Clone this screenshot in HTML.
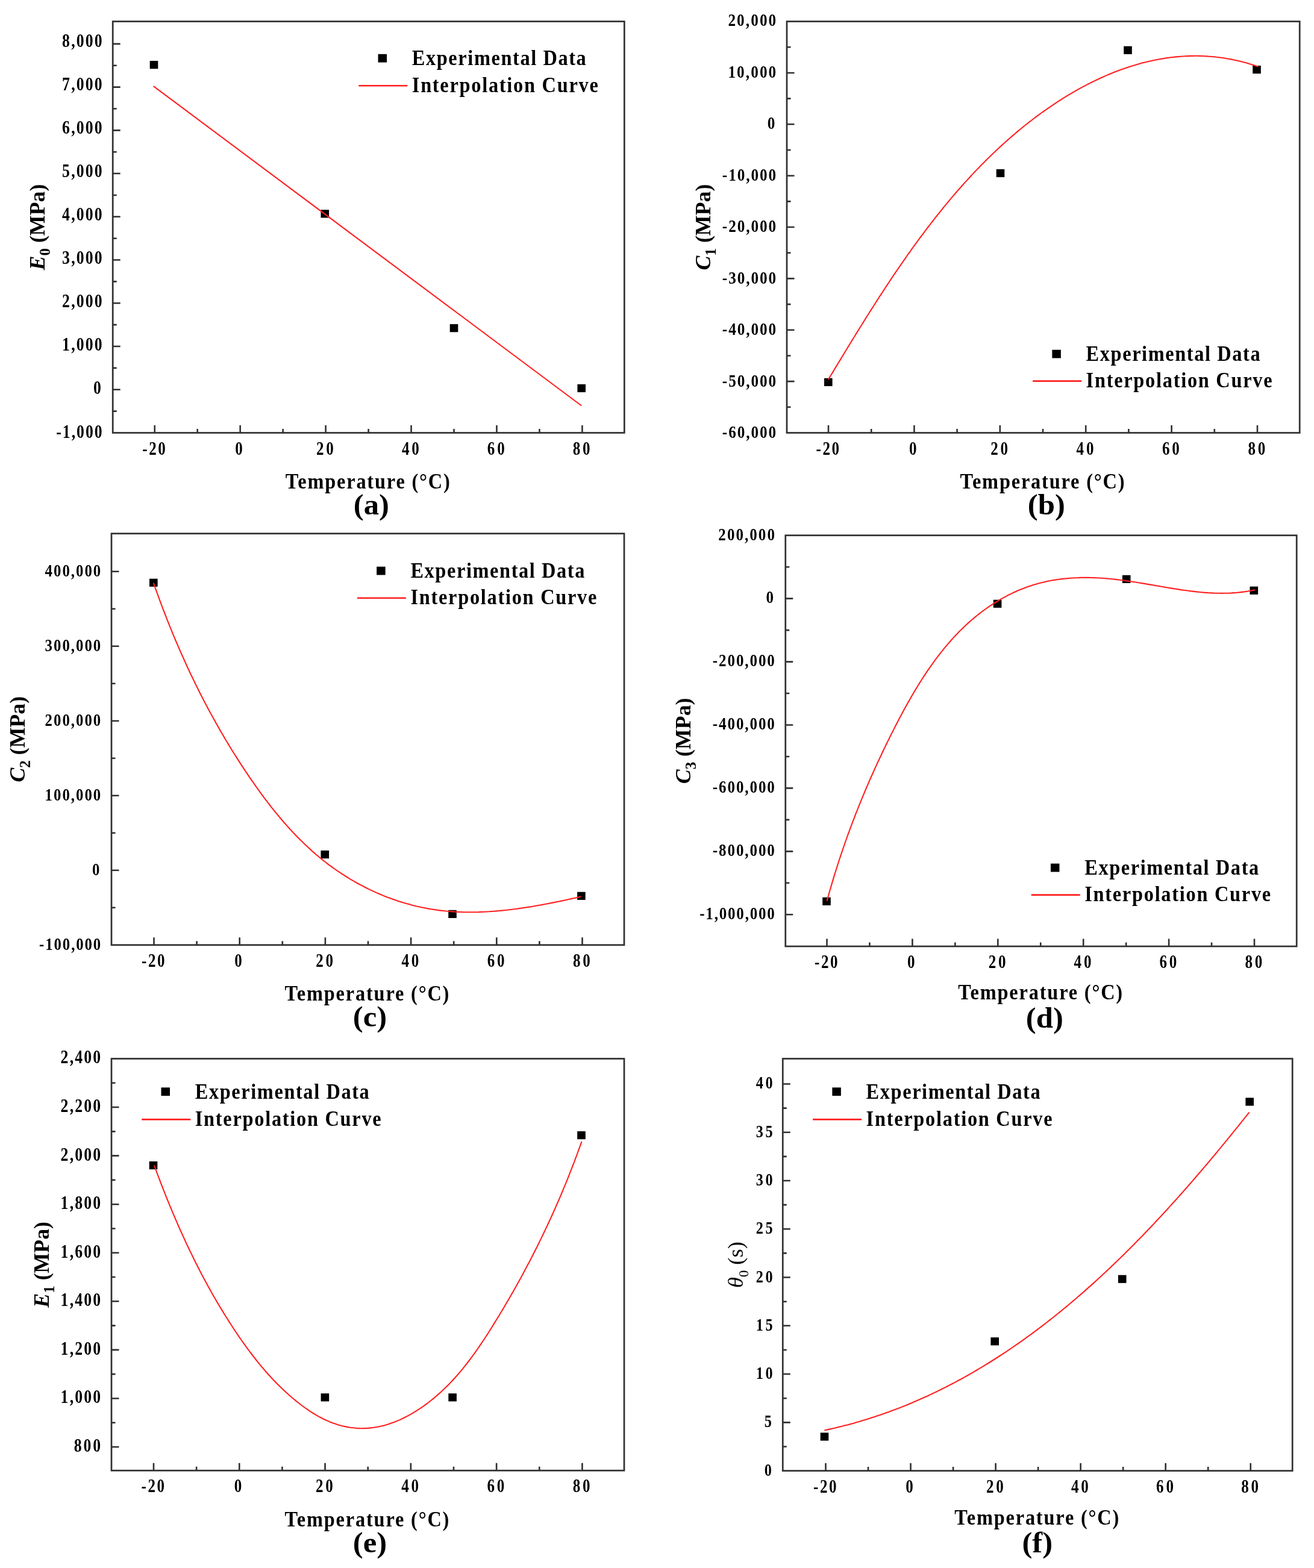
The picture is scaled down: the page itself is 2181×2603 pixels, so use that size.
<!DOCTYPE html>
<html><head><meta charset="utf-8"><title>Figure</title>
<style>html,body{margin:0;padding:0;background:#fff;}svg{display:block;}text{font-family:"Liberation Serif", "Times New Roman", serif;}</style></head><body>
<svg width="2181" height="2603" viewBox="0 0 2181 2603">
<rect width="2181" height="2603" fill="#fff"/>
<g id="panel-a">
<rect x="248.70" y="101.00" width="13.6" height="13.2" fill="#000"/>
<rect x="532.50" y="348.30" width="13.6" height="13.2" fill="#000"/>
<rect x="746.70" y="538.10" width="13.6" height="13.2" fill="#000"/>
<rect x="958.40" y="637.90" width="13.6" height="13.2" fill="#000"/>
<path d="M255.5,143.6 L964.5,673.0" fill="none" stroke="#ff2020" stroke-width="2.1" stroke-linejoin="round" stroke-linecap="round"/>
<rect x="187.20" y="35.60" width="849.10" height="682.90" fill="none" stroke="#303030" stroke-width="2.7"/>
<path d="M256.75,718.50V706.00 M327.72,718.50V712.00 M398.68,718.50V706.00 M469.64,718.50V712.00 M540.61,718.50V706.00 M611.58,718.50V712.00 M682.54,718.50V706.00 M753.50,718.50V712.00 M824.47,718.50V706.00 M895.43,718.50V712.00 M966.40,718.50V706.00 M187.20,682.63H193.70 M187.20,646.76H199.70 M187.20,610.89H193.70 M187.20,575.02H199.70 M187.20,539.15H193.70 M187.20,503.28H199.70 M187.20,467.41H193.70 M187.20,431.54H199.70 M187.20,395.68H193.70 M187.20,359.81H199.70 M187.20,323.94H193.70 M187.20,288.07H199.70 M187.20,252.20H193.70 M187.20,216.33H199.70 M187.20,180.46H193.70 M187.20,144.59H199.70 M187.20,108.72H193.70 M187.20,72.85H199.70" stroke="#303030" stroke-width="2.6" fill="none"/>
<text transform="translate(236.33,754.60) scale(0.809,1)" font-size="31.0" font-weight="bold" textLength="47.50" lengthAdjust="spacing">-20</text>
<text transform="translate(390.27,754.60) scale(0.809,1)" font-size="31.0" font-weight="bold" textLength="17.82" lengthAdjust="spacing">0</text>
<text transform="translate(525.00,754.60) scale(0.809,1)" font-size="31.0" font-weight="bold" textLength="35.63" lengthAdjust="spacing">20</text>
<text transform="translate(666.92,754.60) scale(0.809,1)" font-size="31.0" font-weight="bold" textLength="35.63" lengthAdjust="spacing">40</text>
<text transform="translate(808.86,754.60) scale(0.809,1)" font-size="31.0" font-weight="bold" textLength="35.63" lengthAdjust="spacing">60</text>
<text transform="translate(950.78,754.60) scale(0.809,1)" font-size="31.0" font-weight="bold" textLength="35.63" lengthAdjust="spacing">80</text>
<text transform="translate(93.24,726.51) scale(0.805,1)" font-size="32.0" font-weight="bold" textLength="95.01" lengthAdjust="spacing">-1,000</text>
<text transform="translate(154.90,654.48) scale(0.805,1)" font-size="32.0" font-weight="bold" textLength="18.39" lengthAdjust="spacing">0</text>
<text transform="translate(103.10,582.46) scale(0.805,1)" font-size="32.0" font-weight="bold" textLength="82.76" lengthAdjust="spacing">1,000</text>
<text transform="translate(103.10,510.43) scale(0.805,1)" font-size="32.0" font-weight="bold" textLength="82.76" lengthAdjust="spacing">2,000</text>
<text transform="translate(103.10,438.40) scale(0.805,1)" font-size="32.0" font-weight="bold" textLength="82.76" lengthAdjust="spacing">3,000</text>
<text transform="translate(103.10,366.37) scale(0.805,1)" font-size="32.0" font-weight="bold" textLength="82.76" lengthAdjust="spacing">4,000</text>
<text transform="translate(103.10,294.35) scale(0.805,1)" font-size="32.0" font-weight="bold" textLength="82.76" lengthAdjust="spacing">5,000</text>
<text transform="translate(103.10,222.32) scale(0.805,1)" font-size="32.0" font-weight="bold" textLength="82.76" lengthAdjust="spacing">6,000</text>
<text transform="translate(103.10,150.29) scale(0.805,1)" font-size="32.0" font-weight="bold" textLength="82.76" lengthAdjust="spacing">7,000</text>
<text transform="translate(103.10,78.26) scale(0.805,1)" font-size="32.0" font-weight="bold" textLength="82.76" lengthAdjust="spacing">8,000</text>
<rect x="627.55" y="89.80" width="14.5" height="13.8" fill="#000"/>
<path d="M595.30,142.20H676.30" stroke="#ff2020" stroke-width="2.6"/>
<text transform="translate(683.80,108.20) scale(0.92,1)" font-size="35.2" font-weight="bold" textLength="314.13" lengthAdjust="spacing">Experimental Data</text>
<text transform="translate(683.80,152.60) scale(0.92,1)" font-size="35.2" font-weight="bold" textLength="335.87" lengthAdjust="spacing">Interpolation Curve</text>
<text transform="translate(473.80,811.00) scale(0.92,1)" font-size="35.2" font-weight="bold" textLength="296.74" lengthAdjust="spacing">Temperature (°C)</text>
<text transform="translate(616.40,853.86) scale(1.05,1)" font-size="48.3" font-weight="bold" text-anchor="middle">(a)</text>
<text transform="translate(74.30,377.05) rotate(-90)" font-size="35.8" text-anchor="middle"><tspan font-style="italic" font-weight="bold">E</tspan><tspan font-size="25.0" font-weight="bold" dy="9">0</tspan><tspan font-weight="bold" dy="-9"> (MPa)</tspan></text>
</g>
<g id="panel-b">
<rect x="1368.00" y="627.80" width="13.6" height="13.2" fill="#000"/>
<rect x="1653.70" y="280.90" width="13.6" height="13.2" fill="#000"/>
<rect x="1865.20" y="76.70" width="13.6" height="13.2" fill="#000"/>
<rect x="2079.20" y="109.00" width="13.6" height="13.2" fill="#000"/>
<path d="M1375.2,629.3 L1377.3,626.0 L1379.3,622.7 L1381.3,619.4 L1383.3,616.1 L1385.3,612.7 L1387.3,609.4 L1389.3,606.1 L1391.3,602.7 L1393.4,599.4 L1395.4,596.1 L1397.4,592.7 L1399.5,589.4 L1401.5,586.0 L1403.5,582.7 L1405.6,579.3 L1407.6,576.0 L1409.7,572.6 L1411.7,569.3 L1413.8,565.9 L1415.8,562.5 L1417.9,559.2 L1420.0,555.8 L1422.1,552.4 L1424.1,549.1 L1426.2,545.7 L1428.3,542.3 L1430.4,539.0 L1432.5,535.6 L1434.6,532.3 L1436.7,528.9 L1438.8,525.5 L1440.9,522.2 L1443.1,518.8 L1445.2,515.4 L1447.3,512.1 L1449.5,508.7 L1451.6,505.3 L1453.8,502.0 L1455.9,498.6 L1458.1,495.3 L1460.2,491.9 L1462.4,488.6 L1464.6,485.2 L1466.8,481.9 L1469.0,478.5 L1471.2,475.2 L1473.4,471.9 L1475.6,468.5 L1477.8,465.2 L1480.0,461.9 L1482.2,458.5 L1484.5,455.2 L1486.7,451.9 L1489.0,448.6 L1491.2,445.3 L1493.5,442.0 L1495.8,438.7 L1498.1,435.4 L1500.3,432.1 L1502.6,428.8 L1504.9,425.5 L1507.2,422.2 L1509.6,419.0 L1511.9,415.7 L1514.2,412.4 L1516.6,409.2 L1518.9,405.9 L1521.3,402.7 L1523.6,399.5 L1526.0,396.2 L1528.4,393.0 L1530.8,389.8 L1533.2,386.6 L1535.6,383.4 L1538.0,380.2 L1540.4,377.0 L1542.9,373.8 L1545.3,370.6 L1547.8,367.5 L1550.2,364.3 L1552.7,361.2 L1555.2,358.0 L1557.7,354.9 L1560.2,351.8 L1562.7,348.6 L1565.2,345.5 L1567.7,342.4 L1570.3,339.4 L1572.8,336.3 L1575.4,333.2 L1577.9,330.1 L1580.5,327.1 L1583.1,324.1 L1585.7,321.0 L1588.3,318.0 L1590.9,315.0 L1593.6,312.0 L1596.2,309.0 L1598.9,306.0 L1601.5,303.1 L1604.2,300.1 L1606.9,297.2 L1609.6,294.2 L1612.3,291.3 L1615.0,288.4 L1617.8,285.5 L1620.5,282.6 L1623.3,279.7 L1626.0,276.9 L1628.8,274.0 L1631.6,271.2 L1634.4,268.4 L1637.2,265.5 L1640.1,262.8 L1642.9,260.0 L1645.8,257.2 L1648.6,254.4 L1651.5,251.7 L1654.4,249.0 L1657.3,246.3 L1660.2,243.6 L1663.2,240.9 L1666.1,238.2 L1669.1,235.5 L1672.0,232.9 L1675.0,230.3 L1678.0,227.7 L1681.0,225.1 L1684.0,222.5 L1687.1,219.9 L1690.1,217.4 L1693.2,214.8 L1696.3,212.3 L1699.4,209.8 L1702.5,207.3 L1705.6,204.8 L1708.7,202.4 L1711.9,200.0 L1715.0,197.5 L1718.2,195.1 L1721.4,192.7 L1724.6,190.4 L1727.8,188.0 L1731.1,185.7 L1734.3,183.4 L1737.6,181.1 L1740.9,178.8 L1744.2,176.6 L1747.5,174.3 L1750.8,172.1 L1754.1,169.9 L1757.5,167.7 L1760.8,165.6 L1764.2,163.4 L1767.6,161.3 L1771.0,159.2 L1774.4,157.2 L1777.9,155.1 L1781.3,153.1 L1784.8,151.1 L1788.3,149.2 L1791.7,147.2 L1795.2,145.3 L1798.8,143.4 L1802.3,141.6 L1805.8,139.7 L1809.4,137.9 L1812.9,136.2 L1816.5,134.4 L1820.1,132.7 L1823.7,131.0 L1827.3,129.3 L1830.9,127.7 L1834.5,126.1 L1838.1,124.6 L1841.8,123.0 L1845.4,121.5 L1849.1,120.0 L1852.8,118.6 L1856.5,117.2 L1860.2,115.8 L1863.9,114.5 L1867.6,113.2 L1871.3,112.0 L1875.1,110.7 L1878.8,109.5 L1882.6,108.4 L1886.3,107.3 L1890.1,106.2 L1893.9,105.1 L1897.7,104.1 L1901.5,103.2 L1905.3,102.3 L1909.1,101.4 L1913.0,100.5 L1916.8,99.7 L1920.6,99.0 L1924.5,98.3 L1928.4,97.6 L1932.2,97.0 L1936.1,96.4 L1940.0,95.8 L1943.9,95.3 L1947.8,94.9 L1951.7,94.4 L1955.6,94.1 L1959.5,93.8 L1963.4,93.5 L1967.4,93.3 L1971.3,93.1 L1975.2,92.9 L1979.2,92.9 L1983.1,92.8 L1987.1,92.8 L1991.1,92.9 L1995.0,93.0 L1999.0,93.2 L2003.0,93.4 L2007.0,93.7 L2011.0,94.0 L2015.0,94.3 L2019.0,94.8 L2023.0,95.2 L2027.0,95.8 L2031.0,96.3 L2035.0,97.0 L2039.0,97.7 L2043.1,98.4 L2047.1,99.2 L2051.1,100.1 L2055.2,101.0 L2059.2,102.0 L2063.3,103.0 L2067.3,104.1 L2071.4,105.2 L2075.4,106.4 L2079.5,107.7 L2083.5,109.0 L2087.6,110.4" fill="none" stroke="#ff2020" stroke-width="2.1" stroke-linejoin="round" stroke-linecap="round"/>
<rect x="1306.00" y="35.60" width="851.20" height="682.90" fill="none" stroke="#303030" stroke-width="2.7"/>
<path d="M1375.00,718.50V706.00 M1446.20,718.50V712.00 M1517.40,718.50V706.00 M1588.60,718.50V712.00 M1659.80,718.50V706.00 M1731.00,718.50V712.00 M1802.20,718.50V706.00 M1873.40,718.50V712.00 M1944.60,718.50V706.00 M2015.80,718.50V712.00 M2087.00,718.50V706.00 M1306.00,675.82H1312.50 M1306.00,633.14H1318.50 M1306.00,590.46H1312.50 M1306.00,547.77H1318.50 M1306.00,505.09H1312.50 M1306.00,462.41H1318.50 M1306.00,419.73H1312.50 M1306.00,377.05H1318.50 M1306.00,334.37H1312.50 M1306.00,291.69H1318.50 M1306.00,249.01H1312.50 M1306.00,206.32H1318.50 M1306.00,163.64H1312.50 M1306.00,120.96H1318.50 M1306.00,78.28H1312.50" stroke="#303030" stroke-width="2.6" fill="none"/>
<text transform="translate(1354.58,754.60) scale(0.809,1)" font-size="31.0" font-weight="bold" textLength="47.50" lengthAdjust="spacing">-20</text>
<text transform="translate(1508.99,754.60) scale(0.809,1)" font-size="31.0" font-weight="bold" textLength="17.82" lengthAdjust="spacing">0</text>
<text transform="translate(1644.18,754.60) scale(0.809,1)" font-size="31.0" font-weight="bold" textLength="35.63" lengthAdjust="spacing">20</text>
<text transform="translate(1786.59,754.60) scale(0.809,1)" font-size="31.0" font-weight="bold" textLength="35.63" lengthAdjust="spacing">40</text>
<text transform="translate(1928.98,754.60) scale(0.809,1)" font-size="31.0" font-weight="bold" textLength="35.63" lengthAdjust="spacing">60</text>
<text transform="translate(2071.39,754.60) scale(0.809,1)" font-size="31.0" font-weight="bold" textLength="35.63" lengthAdjust="spacing">80</text>
<text transform="translate(1198.79,727.14) scale(0.827,1)" font-size="30.5" font-weight="bold" textLength="108.08" lengthAdjust="spacing">-60,000</text>
<text transform="translate(1198.79,641.66) scale(0.827,1)" font-size="30.5" font-weight="bold" textLength="108.08" lengthAdjust="spacing">-50,000</text>
<text transform="translate(1198.79,556.19) scale(0.827,1)" font-size="30.5" font-weight="bold" textLength="108.08" lengthAdjust="spacing">-40,000</text>
<text transform="translate(1198.79,470.71) scale(0.827,1)" font-size="30.5" font-weight="bold" textLength="108.08" lengthAdjust="spacing">-30,000</text>
<text transform="translate(1198.79,385.24) scale(0.827,1)" font-size="30.5" font-weight="bold" textLength="108.08" lengthAdjust="spacing">-20,000</text>
<text transform="translate(1198.79,299.76) scale(0.827,1)" font-size="30.5" font-weight="bold" textLength="108.08" lengthAdjust="spacing">-10,000</text>
<text transform="translate(1273.70,214.29) scale(0.827,1)" font-size="30.5" font-weight="bold" textLength="17.53" lengthAdjust="spacing">0</text>
<text transform="translate(1208.45,128.81) scale(0.827,1)" font-size="30.5" font-weight="bold" textLength="96.41" lengthAdjust="spacing">10,000</text>
<text transform="translate(1208.45,43.34) scale(0.827,1)" font-size="30.5" font-weight="bold" textLength="96.41" lengthAdjust="spacing">20,000</text>
<rect x="1746.35" y="580.70" width="14.5" height="13.8" fill="#000"/>
<path d="M1714.10,632.60H1795.10" stroke="#ff2020" stroke-width="2.6"/>
<text transform="translate(1802.60,599.10) scale(0.92,1)" font-size="35.2" font-weight="bold" textLength="314.13" lengthAdjust="spacing">Experimental Data</text>
<text transform="translate(1802.60,643.00) scale(0.92,1)" font-size="35.2" font-weight="bold" textLength="335.87" lengthAdjust="spacing">Interpolation Curve</text>
<text transform="translate(1593.50,811.20) scale(0.92,1)" font-size="35.2" font-weight="bold" textLength="296.74" lengthAdjust="spacing">Temperature (°C)</text>
<text transform="translate(1736.80,854.16) scale(1.05,1)" font-size="48.3" font-weight="bold" text-anchor="middle">(b)</text>
<text transform="translate(1178.60,377.05) rotate(-90)" font-size="35.8" text-anchor="middle"><tspan font-style="italic" font-weight="bold">C</tspan><tspan font-size="25.0" font-weight="bold" dy="9">1</tspan><tspan font-weight="bold" dy="-9"> (MPa)</tspan></text>
</g>
<g id="panel-c">
<rect x="248.00" y="960.70" width="13.6" height="13.2" fill="#000"/>
<rect x="532.50" y="1411.90" width="13.6" height="13.2" fill="#000"/>
<rect x="744.20" y="1510.80" width="13.6" height="13.2" fill="#000"/>
<rect x="958.10" y="1480.70" width="13.6" height="13.2" fill="#000"/>
<path d="M255.1,968.6 L256.5,972.6 L257.9,976.5 L259.3,980.4 L260.7,984.4 L262.2,988.3 L263.6,992.2 L265.0,996.1 L266.5,1000.1 L268.0,1004.0 L269.4,1007.9 L270.9,1011.8 L272.4,1015.7 L273.9,1019.5 L275.4,1023.4 L276.9,1027.3 L278.4,1031.2 L280.0,1035.0 L281.5,1038.9 L283.1,1042.8 L284.7,1046.6 L286.2,1050.5 L287.8,1054.3 L289.4,1058.1 L291.0,1062.0 L292.6,1065.8 L294.3,1069.6 L295.9,1073.4 L297.6,1077.2 L299.2,1081.0 L300.9,1084.8 L302.6,1088.6 L304.3,1092.4 L306.0,1096.2 L307.7,1099.9 L309.4,1103.7 L311.1,1107.5 L312.9,1111.2 L314.6,1115.0 L316.4,1118.7 L318.2,1122.5 L320.0,1126.2 L321.8,1129.9 L323.6,1133.7 L325.4,1137.4 L327.2,1141.1 L329.1,1144.8 L330.9,1148.5 L332.8,1152.2 L334.7,1155.9 L336.6,1159.6 L338.5,1163.2 L340.4,1166.9 L342.3,1170.6 L344.3,1174.2 L346.2,1177.9 L348.2,1181.6 L350.2,1185.2 L352.2,1188.8 L354.2,1192.5 L356.2,1196.1 L358.2,1199.7 L360.2,1203.3 L362.3,1206.9 L364.3,1210.5 L366.4,1214.1 L368.5,1217.7 L370.6,1221.3 L372.7,1224.9 L374.8,1228.5 L377.0,1232.0 L379.1,1235.6 L381.3,1239.2 L383.5,1242.7 L385.6,1246.3 L387.8,1249.8 L390.1,1253.3 L392.3,1256.9 L394.5,1260.4 L396.8,1263.9 L399.0,1267.4 L401.3,1270.9 L403.6,1274.4 L405.9,1277.9 L408.2,1281.4 L410.6,1284.9 L412.9,1288.3 L415.3,1291.8 L417.7,1295.3 L420.1,1298.7 L422.5,1302.2 L424.9,1305.6 L427.3,1309.0 L429.8,1312.4 L432.2,1315.8 L434.7,1319.2 L437.2,1322.6 L439.7,1326.0 L442.3,1329.3 L444.8,1332.7 L447.4,1336.0 L450.0,1339.3 L452.6,1342.6 L455.2,1345.9 L457.8,1349.1 L460.5,1352.4 L463.2,1355.6 L465.9,1358.8 L468.6,1362.0 L471.3,1365.2 L474.1,1368.3 L476.8,1371.4 L479.6,1374.5 L482.5,1377.6 L485.3,1380.7 L488.2,1383.7 L491.0,1386.7 L493.9,1389.7 L496.9,1392.7 L499.8,1395.6 L502.8,1398.5 L505.8,1401.4 L508.8,1404.3 L511.8,1407.1 L514.9,1409.9 L518.0,1412.7 L521.1,1415.4 L524.2,1418.2 L527.4,1420.8 L530.6,1423.5 L533.8,1426.1 L537.0,1428.7 L540.3,1431.3 L543.5,1433.8 L546.9,1436.3 L550.2,1438.7 L553.5,1441.2 L556.9,1443.5 L560.3,1445.9 L563.8,1448.2 L567.2,1450.5 L570.7,1452.7 L574.2,1455.0 L577.7,1457.1 L581.2,1459.3 L584.8,1461.4 L588.3,1463.4 L591.9,1465.5 L595.5,1467.5 L599.2,1469.4 L602.8,1471.3 L606.5,1473.2 L610.2,1475.1 L613.9,1476.9 L617.6,1478.6 L621.4,1480.4 L625.1,1482.1 L628.9,1483.7 L632.7,1485.3 L636.5,1486.9 L640.4,1488.4 L644.2,1489.9 L648.1,1491.3 L651.9,1492.7 L655.8,1494.1 L659.7,1495.4 L663.7,1496.7 L667.6,1497.9 L671.5,1499.1 L675.5,1500.2 L679.5,1501.3 L683.5,1502.4 L687.5,1503.4 L691.5,1504.4 L695.5,1505.3 L699.5,1506.2 L703.6,1507.0 L707.6,1507.8 L711.7,1508.6 L715.8,1509.3 L719.9,1509.9 L723.9,1510.5 L728.1,1511.1 L732.2,1511.6 L736.3,1512.0 L740.4,1512.5 L744.6,1512.8 L748.7,1513.2 L752.9,1513.4 L757.0,1513.7 L761.2,1513.9 L765.4,1514.0 L769.5,1514.2 L773.7,1514.2 L777.9,1514.3 L782.1,1514.3 L786.3,1514.3 L790.5,1514.2 L794.7,1514.1 L798.9,1513.9 L803.1,1513.8 L807.3,1513.5 L811.5,1513.3 L815.7,1513.0 L819.9,1512.7 L824.1,1512.4 L828.3,1512.0 L832.5,1511.6 L836.7,1511.2 L840.9,1510.8 L845.1,1510.3 L849.3,1509.8 L853.5,1509.3 L857.6,1508.7 L861.8,1508.1 L866.0,1507.5 L870.2,1506.9 L874.3,1506.3 L878.5,1505.6 L882.6,1505.0 L886.8,1504.3 L890.9,1503.5 L895.0,1502.8 L899.2,1502.1 L903.3,1501.3 L907.4,1500.5 L911.5,1499.7 L915.6,1498.9 L919.6,1498.1 L923.7,1497.3 L927.7,1496.5 L931.8,1495.6 L935.8,1494.8 L939.8,1493.9 L943.8,1493.0 L947.8,1492.1 L951.8,1491.3 L955.7,1490.4 L959.7,1489.5 L963.6,1488.6" fill="none" stroke="#ff2020" stroke-width="2.1" stroke-linejoin="round" stroke-linecap="round"/>
<rect x="185.00" y="885.75" width="851.00" height="683.00" fill="none" stroke="#303030" stroke-width="2.7"/>
<path d="M255.50,1568.75V1556.25 M326.60,1568.75V1562.25 M397.70,1568.75V1556.25 M468.80,1568.75V1562.25 M539.90,1568.75V1556.25 M611.00,1568.75V1562.25 M682.10,1568.75V1556.25 M753.20,1568.75V1562.25 M824.30,1568.75V1556.25 M895.40,1568.75V1562.25 M966.50,1568.75V1556.25 M185.00,1506.75H191.50 M185.00,1444.75H197.50 M185.00,1382.75H191.50 M185.00,1320.75H197.50 M185.00,1258.75H191.50 M185.00,1196.75H197.50 M185.00,1134.75H191.50 M185.00,1072.75H197.50 M185.00,1010.75H191.50 M185.00,948.75H197.50" stroke="#303030" stroke-width="2.6" fill="none"/>
<text transform="translate(235.08,1604.85) scale(0.809,1)" font-size="31.0" font-weight="bold" textLength="47.50" lengthAdjust="spacing">-20</text>
<text transform="translate(389.29,1604.85) scale(0.809,1)" font-size="31.0" font-weight="bold" textLength="17.82" lengthAdjust="spacing">0</text>
<text transform="translate(524.29,1604.85) scale(0.809,1)" font-size="31.0" font-weight="bold" textLength="35.63" lengthAdjust="spacing">20</text>
<text transform="translate(666.49,1604.85) scale(0.809,1)" font-size="31.0" font-weight="bold" textLength="35.63" lengthAdjust="spacing">40</text>
<text transform="translate(808.69,1604.85) scale(0.809,1)" font-size="31.0" font-weight="bold" textLength="35.63" lengthAdjust="spacing">60</text>
<text transform="translate(950.88,1604.85) scale(0.809,1)" font-size="31.0" font-weight="bold" textLength="35.63" lengthAdjust="spacing">80</text>
<text transform="translate(65.08,1576.77) scale(0.841,1)" font-size="29.5" font-weight="bold" textLength="121.49" lengthAdjust="spacing">-100,000</text>
<text transform="translate(152.95,1452.77) scale(0.841,1)" font-size="29.5" font-weight="bold" textLength="16.95" lengthAdjust="spacing">0</text>
<text transform="translate(74.57,1328.77) scale(0.841,1)" font-size="29.5" font-weight="bold" textLength="110.20" lengthAdjust="spacing">100,000</text>
<text transform="translate(74.57,1204.77) scale(0.841,1)" font-size="29.5" font-weight="bold" textLength="110.20" lengthAdjust="spacing">200,000</text>
<text transform="translate(74.57,1080.77) scale(0.841,1)" font-size="29.5" font-weight="bold" textLength="110.20" lengthAdjust="spacing">300,000</text>
<text transform="translate(74.57,956.77) scale(0.841,1)" font-size="29.5" font-weight="bold" textLength="110.20" lengthAdjust="spacing">400,000</text>
<rect x="625.15" y="940.70" width="14.5" height="13.8" fill="#000"/>
<path d="M592.90,992.70H673.90" stroke="#ff2020" stroke-width="2.6"/>
<text transform="translate(681.40,959.10) scale(0.92,1)" font-size="35.2" font-weight="bold" textLength="314.13" lengthAdjust="spacing">Experimental Data</text>
<text transform="translate(681.40,1003.10) scale(0.92,1)" font-size="35.2" font-weight="bold" textLength="335.87" lengthAdjust="spacing">Interpolation Curve</text>
<text transform="translate(472.40,1661.00) scale(0.92,1)" font-size="35.2" font-weight="bold" textLength="296.74" lengthAdjust="spacing">Temperature (°C)</text>
<text transform="translate(614.00,1703.96) scale(1.05,1)" font-size="48.3" font-weight="bold" text-anchor="middle">(c)</text>
<text transform="translate(41.40,1227.25) rotate(-90)" font-size="35.8" text-anchor="middle"><tspan font-style="italic" font-weight="bold">C</tspan><tspan font-size="25.0" font-weight="bold" dy="9">2</tspan><tspan font-weight="bold" dy="-9"> (MPa)</tspan></text>
</g>
<g id="panel-d">
<rect x="1365.20" y="1489.70" width="13.6" height="13.2" fill="#000"/>
<rect x="1648.80" y="995.70" width="13.6" height="13.2" fill="#000"/>
<rect x="1862.90" y="954.80" width="13.6" height="13.2" fill="#000"/>
<rect x="2074.50" y="973.70" width="13.6" height="13.2" fill="#000"/>
<path d="M1372.7,1495.1 L1373.9,1490.8 L1375.1,1486.6 L1376.2,1482.4 L1377.4,1478.2 L1378.7,1474.1 L1379.9,1469.9 L1381.1,1465.7 L1382.3,1461.6 L1383.6,1457.4 L1384.8,1453.3 L1386.1,1449.2 L1387.4,1445.1 L1388.7,1441.0 L1390.0,1436.9 L1391.3,1432.8 L1392.6,1428.8 L1393.9,1424.7 L1395.3,1420.6 L1396.6,1416.6 L1398.0,1412.6 L1399.4,1408.5 L1400.8,1404.5 L1402.1,1400.5 L1403.5,1396.5 L1405.0,1392.5 L1406.4,1388.5 L1407.8,1384.5 L1409.3,1380.6 L1410.7,1376.6 L1412.2,1372.6 L1413.7,1368.7 L1415.2,1364.7 L1416.7,1360.8 L1418.2,1356.9 L1419.7,1352.9 L1421.2,1349.0 L1422.8,1345.1 L1424.3,1341.2 L1425.9,1337.3 L1427.5,1333.3 L1429.1,1329.4 L1430.7,1325.6 L1432.3,1321.7 L1433.9,1317.8 L1435.5,1313.9 L1437.2,1310.0 L1438.8,1306.1 L1440.5,1302.3 L1442.2,1298.4 L1443.8,1294.5 L1445.5,1290.7 L1447.3,1286.8 L1449.0,1283.0 L1450.7,1279.1 L1452.5,1275.2 L1454.2,1271.4 L1456.0,1267.5 L1457.8,1263.7 L1459.6,1259.9 L1461.4,1256.0 L1463.2,1252.2 L1465.0,1248.3 L1466.8,1244.5 L1468.7,1240.6 L1470.5,1236.8 L1472.4,1233.0 L1474.3,1229.1 L1476.2,1225.3 L1478.1,1221.4 L1480.0,1217.6 L1482.0,1213.8 L1483.9,1209.9 L1485.9,1206.1 L1487.8,1202.3 L1489.8,1198.4 L1491.8,1194.6 L1493.8,1190.8 L1495.9,1186.9 L1497.9,1183.1 L1500.0,1179.3 L1502.0,1175.5 L1504.1,1171.7 L1506.2,1167.9 L1508.4,1164.1 L1510.5,1160.4 L1512.7,1156.6 L1514.8,1152.9 L1517.0,1149.1 L1519.3,1145.4 L1521.5,1141.7 L1523.8,1138.0 L1526.0,1134.4 L1528.3,1130.7 L1530.7,1127.0 L1533.0,1123.4 L1535.4,1119.8 L1537.8,1116.2 L1540.2,1112.7 L1542.6,1109.1 L1545.1,1105.6 L1547.6,1102.1 L1550.1,1098.6 L1552.6,1095.1 L1555.2,1091.7 L1557.8,1088.3 L1560.4,1084.9 L1563.1,1081.6 L1565.7,1078.2 L1568.4,1074.9 L1571.2,1071.7 L1573.9,1068.4 L1576.7,1065.2 L1579.5,1062.0 L1582.4,1058.9 L1585.3,1055.8 L1588.2,1052.7 L1591.1,1049.6 L1594.1,1046.6 L1597.1,1043.7 L1600.1,1040.7 L1603.2,1037.8 L1606.3,1034.9 L1609.5,1032.1 L1612.6,1029.3 L1615.9,1026.6 L1619.1,1023.9 L1622.4,1021.2 L1625.7,1018.6 L1629.1,1016.0 L1632.4,1013.5 L1635.9,1011.0 L1639.3,1008.6 L1642.8,1006.2 L1646.4,1003.8 L1649.9,1001.5 L1653.5,999.3 L1657.1,997.1 L1660.8,994.9 L1664.5,992.9 L1668.2,990.8 L1671.9,988.8 L1675.7,986.9 L1679.5,985.1 L1683.3,983.3 L1687.2,981.5 L1691.0,979.8 L1694.9,978.2 L1698.9,976.7 L1702.8,975.2 L1706.8,973.8 L1710.8,972.4 L1714.8,971.1 L1718.8,969.9 L1722.9,968.8 L1726.9,967.7 L1731.0,966.7 L1735.1,965.7 L1739.3,964.8 L1743.4,964.0 L1747.5,963.3 L1751.7,962.6 L1755.9,962.0 L1760.1,961.4 L1764.3,960.9 L1768.5,960.5 L1772.7,960.1 L1777.0,959.7 L1781.2,959.5 L1785.5,959.2 L1789.7,959.1 L1794.0,958.9 L1798.3,958.9 L1802.5,958.9 L1806.8,958.9 L1811.1,959.0 L1815.4,959.1 L1819.7,959.3 L1824.0,959.5 L1828.3,959.7 L1832.5,960.0 L1836.8,960.4 L1841.1,960.8 L1845.4,961.2 L1849.7,961.6 L1854.0,962.1 L1858.2,962.7 L1862.5,963.2 L1866.8,963.8 L1871.0,964.4 L1875.3,965.0 L1879.6,965.7 L1883.8,966.3 L1888.1,967.0 L1892.3,967.7 L1896.6,968.4 L1900.9,969.1 L1905.1,969.9 L1909.4,970.6 L1913.6,971.3 L1917.8,972.1 L1922.1,972.8 L1926.3,973.5 L1930.6,974.3 L1934.8,975.0 L1939.0,975.7 L1943.3,976.4 L1947.5,977.1 L1951.8,977.8 L1956.0,978.4 L1960.2,979.1 L1964.4,979.7 L1968.7,980.3 L1972.9,980.8 L1977.1,981.4 L1981.3,981.9 L1985.6,982.4 L1989.8,982.8 L1994.0,983.2 L1998.2,983.6 L2002.4,983.9 L2006.7,984.2 L2010.9,984.4 L2015.1,984.6 L2019.3,984.7 L2023.5,984.8 L2027.7,984.9 L2032.0,984.8 L2036.2,984.7 L2040.4,984.6 L2044.6,984.4 L2048.8,984.1 L2053.0,983.8 L2057.2,983.4 L2061.4,982.9 L2065.6,982.4 L2069.9,981.7 L2074.1,981.0 L2078.3,980.3 L2082.5,979.4" fill="none" stroke="#ff2020" stroke-width="2.1" stroke-linejoin="round" stroke-linecap="round"/>
<rect x="1303.75" y="888.75" width="848.45" height="682.25" fill="none" stroke="#303030" stroke-width="2.7"/>
<path d="M1372.50,1571.00V1558.50 M1443.45,1571.00V1564.50 M1514.40,1571.00V1558.50 M1585.35,1571.00V1564.50 M1656.30,1571.00V1558.50 M1727.25,1571.00V1564.50 M1798.20,1571.00V1558.50 M1869.15,1571.00V1564.50 M1940.10,1571.00V1558.50 M2011.05,1571.00V1564.50 M2082.00,1571.00V1558.50 M1303.75,1518.25H1316.25 M1303.75,1465.79H1310.25 M1303.75,1413.33H1316.25 M1303.75,1360.88H1310.25 M1303.75,1308.42H1316.25 M1303.75,1255.96H1310.25 M1303.75,1203.50H1316.25 M1303.75,1151.04H1310.25 M1303.75,1098.58H1316.25 M1303.75,1046.12H1310.25 M1303.75,993.67H1316.25 M1303.75,941.21H1310.25" stroke="#303030" stroke-width="2.6" fill="none"/>
<text transform="translate(1352.08,1607.10) scale(0.809,1)" font-size="31.0" font-weight="bold" textLength="47.50" lengthAdjust="spacing">-20</text>
<text transform="translate(1505.99,1607.10) scale(0.809,1)" font-size="31.0" font-weight="bold" textLength="17.82" lengthAdjust="spacing">0</text>
<text transform="translate(1640.68,1607.10) scale(0.809,1)" font-size="31.0" font-weight="bold" textLength="35.63" lengthAdjust="spacing">20</text>
<text transform="translate(1782.59,1607.10) scale(0.809,1)" font-size="31.0" font-weight="bold" textLength="35.63" lengthAdjust="spacing">40</text>
<text transform="translate(1924.48,1607.10) scale(0.809,1)" font-size="31.0" font-weight="bold" textLength="35.63" lengthAdjust="spacing">60</text>
<text transform="translate(2066.39,1607.10) scale(0.809,1)" font-size="31.0" font-weight="bold" textLength="35.63" lengthAdjust="spacing">80</text>
<text transform="translate(1161.16,1525.57) scale(0.849,1)" font-size="29.5" font-weight="bold" textLength="146.92" lengthAdjust="spacing">-1,000,000</text>
<text transform="translate(1182.76,1420.74) scale(0.849,1)" font-size="29.5" font-weight="bold" textLength="121.49" lengthAdjust="spacing">-800,000</text>
<text transform="translate(1182.76,1315.91) scale(0.849,1)" font-size="29.5" font-weight="bold" textLength="121.49" lengthAdjust="spacing">-600,000</text>
<text transform="translate(1182.76,1211.07) scale(0.849,1)" font-size="29.5" font-weight="bold" textLength="121.49" lengthAdjust="spacing">-400,000</text>
<text transform="translate(1182.76,1106.24) scale(0.849,1)" font-size="29.5" font-weight="bold" textLength="121.49" lengthAdjust="spacing">-200,000</text>
<text transform="translate(1271.55,1001.41) scale(0.849,1)" font-size="29.5" font-weight="bold" textLength="16.95" lengthAdjust="spacing">0</text>
<text transform="translate(1192.35,896.57) scale(0.849,1)" font-size="29.5" font-weight="bold" textLength="110.20" lengthAdjust="spacing">200,000</text>
<rect x="1743.95" y="1433.60" width="14.5" height="13.8" fill="#000"/>
<path d="M1711.70,1485.60H1792.70" stroke="#ff2020" stroke-width="2.6"/>
<text transform="translate(1800.20,1452.00) scale(0.92,1)" font-size="35.2" font-weight="bold" textLength="314.13" lengthAdjust="spacing">Experimental Data</text>
<text transform="translate(1800.20,1496.00) scale(0.92,1)" font-size="35.2" font-weight="bold" textLength="335.87" lengthAdjust="spacing">Interpolation Curve</text>
<text transform="translate(1590.15,1659.30) scale(0.92,1)" font-size="35.2" font-weight="bold" textLength="296.74" lengthAdjust="spacing">Temperature (°C)</text>
<text transform="translate(1733.85,1706.16) scale(1.05,1)" font-size="48.3" font-weight="bold" text-anchor="middle">(d)</text>
<text transform="translate(1146.20,1229.88) rotate(-90)" font-size="35.8" text-anchor="middle"><tspan font-style="italic" font-weight="bold">C</tspan><tspan font-size="25.0" font-weight="bold" dy="9">3</tspan><tspan font-weight="bold" dy="-9"> (MPa)</tspan></text>
</g>
<g id="panel-e">
<rect x="247.70" y="1928.00" width="13.6" height="13.2" fill="#000"/>
<rect x="532.60" y="2313.20" width="13.6" height="13.2" fill="#000"/>
<rect x="744.30" y="2313.20" width="13.6" height="13.2" fill="#000"/>
<rect x="958.20" y="1878.00" width="13.6" height="13.2" fill="#000"/>
<path d="M256.2,1935.3 L257.9,1940.1 L259.7,1944.8 L261.5,1949.6 L263.3,1954.3 L265.1,1959.0 L266.9,1963.8 L268.7,1968.5 L270.5,1973.2 L272.4,1977.9 L274.3,1982.6 L276.1,1987.3 L278.0,1992.0 L279.9,1996.7 L281.8,2001.4 L283.8,2006.0 L285.7,2010.7 L287.7,2015.4 L289.7,2020.0 L291.7,2024.7 L293.7,2029.3 L295.7,2034.0 L297.7,2038.6 L299.8,2043.2 L301.9,2047.8 L304.0,2052.4 L306.1,2057.0 L308.2,2061.6 L310.3,2066.2 L312.5,2070.8 L314.7,2075.3 L316.9,2079.9 L319.1,2084.4 L321.3,2089.0 L323.5,2093.5 L325.8,2098.0 L328.1,2102.5 L330.4,2107.0 L332.7,2111.5 L335.0,2116.0 L337.4,2120.4 L339.8,2124.9 L342.2,2129.3 L344.6,2133.8 L347.0,2138.2 L349.5,2142.6 L351.9,2147.0 L354.4,2151.4 L357.0,2155.8 L359.5,2160.1 L362.1,2164.5 L364.6,2168.8 L367.2,2173.1 L369.9,2177.4 L372.5,2181.7 L375.2,2186.0 L377.9,2190.3 L380.6,2194.6 L383.3,2198.8 L386.1,2203.0 L388.8,2207.3 L391.7,2211.5 L394.5,2215.7 L397.3,2219.8 L400.2,2224.0 L403.1,2228.1 L406.0,2232.2 L409.0,2236.3 L412.0,2240.4 L415.0,2244.5 L418.1,2248.5 L421.2,2252.5 L424.3,2256.5 L427.4,2260.4 L430.6,2264.4 L433.8,2268.3 L437.1,2272.1 L440.4,2276.0 L443.7,2279.8 L447.1,2283.5 L450.6,2287.3 L454.0,2291.0 L457.5,2294.6 L461.1,2298.2 L464.7,2301.8 L468.3,2305.3 L472.0,2308.8 L475.8,2312.3 L479.6,2315.7 L483.4,2319.0 L487.3,2322.3 L491.3,2325.6 L495.3,2328.8 L499.3,2332.0 L503.4,2335.0 L507.6,2338.0 L511.8,2340.9 L516.1,2343.8 L520.4,2346.5 L524.8,2349.1 L529.2,2351.6 L533.7,2354.0 L538.2,2356.3 L542.8,2358.4 L547.5,2360.4 L552.1,2362.2 L556.9,2363.8 L561.7,2365.4 L566.5,2366.7 L571.4,2367.9 L576.2,2368.9 L581.2,2369.7 L586.1,2370.3 L591.0,2370.8 L596.0,2371.1 L600.9,2371.2 L605.8,2371.1 L610.7,2370.9 L615.6,2370.4 L620.5,2369.8 L625.4,2369.0 L630.2,2368.1 L635.1,2366.9 L639.8,2365.7 L644.6,2364.2 L649.3,2362.6 L654.1,2360.9 L658.7,2359.1 L663.4,2357.1 L668.0,2355.0 L672.5,2352.7 L677.0,2350.4 L681.5,2347.9 L685.9,2345.4 L690.3,2342.7 L694.7,2339.9 L698.9,2337.1 L703.2,2334.1 L707.3,2331.1 L711.5,2328.0 L715.5,2324.8 L719.5,2321.6 L723.4,2318.3 L727.3,2314.9 L731.1,2311.5 L734.8,2308.1 L738.5,2304.5 L742.1,2301.0 L745.7,2297.4 L749.2,2293.7 L752.6,2290.0 L756.0,2286.3 L759.4,2282.5 L762.7,2278.7 L765.9,2274.8 L769.1,2270.9 L772.3,2266.9 L775.4,2263.0 L778.4,2259.0 L781.5,2254.9 L784.5,2250.9 L787.4,2246.8 L790.4,2242.7 L793.3,2238.5 L796.1,2234.4 L799.0,2230.2 L801.8,2226.0 L804.6,2221.7 L807.3,2217.5 L810.1,2213.3 L812.8,2209.0 L815.5,2204.7 L818.2,2200.4 L820.8,2196.1 L823.5,2191.8 L826.1,2187.5 L828.8,2183.2 L831.4,2178.8 L834.0,2174.5 L836.6,2170.2 L839.1,2165.8 L841.7,2161.5 L844.2,2157.1 L846.8,2152.7 L849.3,2148.3 L851.8,2143.9 L854.3,2139.5 L856.8,2135.1 L859.2,2130.7 L861.7,2126.3 L864.1,2121.9 L866.5,2117.5 L868.9,2113.0 L871.3,2108.6 L873.7,2104.1 L876.0,2099.6 L878.4,2095.2 L880.7,2090.7 L883.0,2086.2 L885.3,2081.7 L887.6,2077.2 L889.9,2072.7 L892.2,2068.2 L894.4,2063.7 L896.6,2059.1 L898.8,2054.6 L901.0,2050.0 L903.2,2045.5 L905.4,2040.9 L907.5,2036.4 L909.7,2031.8 L911.8,2027.2 L913.9,2022.6 L916.0,2018.0 L918.1,2013.4 L920.2,2008.8 L922.2,2004.2 L924.2,1999.5 L926.3,1994.9 L928.3,1990.3 L930.3,1985.6 L932.2,1981.0 L934.2,1976.3 L936.1,1971.6 L938.1,1966.9 L940.0,1962.3 L941.9,1957.6 L943.8,1952.9 L945.6,1948.2 L947.5,1943.4 L949.3,1938.7 L951.1,1934.0 L953.0,1929.3 L954.7,1924.5 L956.5,1919.8 L958.3,1915.0 L960.0,1910.2 L961.8,1905.5 L963.5,1900.7 L965.2,1895.9" fill="none" stroke="#ff2020" stroke-width="2.1" stroke-linejoin="round" stroke-linecap="round"/>
<rect x="185.00" y="1757.50" width="851.00" height="683.70" fill="none" stroke="#303030" stroke-width="2.7"/>
<path d="M255.00,2441.20V2428.70 M326.14,2441.20V2434.70 M397.28,2441.20V2428.70 M468.42,2441.20V2434.70 M539.56,2441.20V2428.70 M610.70,2441.20V2434.70 M681.84,2441.20V2428.70 M752.98,2441.20V2434.70 M824.12,2441.20V2428.70 M895.26,2441.20V2434.70 M966.40,2441.20V2428.70 M185.00,2402.00H197.50 M185.00,2361.72H191.50 M185.00,2321.44H197.50 M185.00,2281.16H191.50 M185.00,2240.88H197.50 M185.00,2200.59H191.50 M185.00,2160.31H197.50 M185.00,2120.03H191.50 M185.00,2079.75H197.50 M185.00,2039.47H191.50 M185.00,1999.19H197.50 M185.00,1958.91H191.50 M185.00,1918.62H197.50 M185.00,1878.34H191.50 M185.00,1838.06H197.50 M185.00,1797.78H191.50" stroke="#303030" stroke-width="2.6" fill="none"/>
<text transform="translate(234.58,2477.30) scale(0.809,1)" font-size="31.0" font-weight="bold" textLength="47.50" lengthAdjust="spacing">-20</text>
<text transform="translate(388.87,2477.30) scale(0.809,1)" font-size="31.0" font-weight="bold" textLength="17.82" lengthAdjust="spacing">0</text>
<text transform="translate(523.94,2477.30) scale(0.809,1)" font-size="31.0" font-weight="bold" textLength="35.63" lengthAdjust="spacing">20</text>
<text transform="translate(666.22,2477.30) scale(0.809,1)" font-size="31.0" font-weight="bold" textLength="35.63" lengthAdjust="spacing">40</text>
<text transform="translate(808.50,2477.30) scale(0.809,1)" font-size="31.0" font-weight="bold" textLength="35.63" lengthAdjust="spacing">60</text>
<text transform="translate(950.78,2477.30) scale(0.809,1)" font-size="31.0" font-weight="bold" textLength="35.63" lengthAdjust="spacing">80</text>
<text transform="translate(122.80,2409.90) scale(0.831,1)" font-size="31.0" font-weight="bold" textLength="53.45" lengthAdjust="spacing">800</text>
<text transform="translate(100.60,2329.33) scale(0.831,1)" font-size="31.0" font-weight="bold" textLength="80.17" lengthAdjust="spacing">1,000</text>
<text transform="translate(100.60,2248.77) scale(0.831,1)" font-size="31.0" font-weight="bold" textLength="80.17" lengthAdjust="spacing">1,200</text>
<text transform="translate(100.60,2168.21) scale(0.831,1)" font-size="31.0" font-weight="bold" textLength="80.17" lengthAdjust="spacing">1,400</text>
<text transform="translate(100.60,2087.65) scale(0.831,1)" font-size="31.0" font-weight="bold" textLength="80.17" lengthAdjust="spacing">1,600</text>
<text transform="translate(100.60,2007.08) scale(0.831,1)" font-size="31.0" font-weight="bold" textLength="80.17" lengthAdjust="spacing">1,800</text>
<text transform="translate(100.60,1926.52) scale(0.831,1)" font-size="31.0" font-weight="bold" textLength="80.17" lengthAdjust="spacing">2,000</text>
<text transform="translate(100.60,1845.96) scale(0.831,1)" font-size="31.0" font-weight="bold" textLength="80.17" lengthAdjust="spacing">2,200</text>
<text transform="translate(100.60,1765.40) scale(0.831,1)" font-size="31.0" font-weight="bold" textLength="80.17" lengthAdjust="spacing">2,400</text>
<rect x="267.50" y="1805.35" width="14.5" height="13.8" fill="#000"/>
<path d="M235.25,1858.35H316.25" stroke="#ff2020" stroke-width="2.6"/>
<text transform="translate(323.75,1823.75) scale(0.92,1)" font-size="35.2" font-weight="bold" textLength="314.13" lengthAdjust="spacing">Experimental Data</text>
<text transform="translate(323.75,1868.75) scale(0.92,1)" font-size="35.2" font-weight="bold" textLength="335.87" lengthAdjust="spacing">Interpolation Curve</text>
<text transform="translate(472.40,2533.75) scale(0.92,1)" font-size="35.2" font-weight="bold" textLength="296.74" lengthAdjust="spacing">Temperature (°C)</text>
<text transform="translate(614.00,2577.06) scale(1.05,1)" font-size="48.3" font-weight="bold" text-anchor="middle">(e)</text>
<text transform="translate(81.40,2099.35) rotate(-90)" font-size="35.8" text-anchor="middle"><tspan font-style="italic" font-weight="bold">E</tspan><tspan font-size="25.0" font-weight="bold" dy="9">1</tspan><tspan font-weight="bold" dy="-9"> (MPa)</tspan></text>
</g>
<g id="panel-f">
<rect x="1361.70" y="2378.40" width="13.6" height="13.2" fill="#000"/>
<rect x="1644.40" y="2220.20" width="13.6" height="13.2" fill="#000"/>
<rect x="1855.90" y="2116.70" width="13.6" height="13.2" fill="#000"/>
<rect x="2067.40" y="1822.40" width="13.6" height="13.2" fill="#000"/>
<path d="M1369.2,2374.3 L1373.0,2373.4 L1376.8,2372.6 L1380.5,2371.8 L1384.3,2370.9 L1388.0,2370.0 L1391.7,2369.1 L1395.4,2368.2 L1399.1,2367.3 L1402.8,2366.3 L1406.5,2365.4 L1410.2,2364.4 L1413.9,2363.4 L1417.6,2362.4 L1421.2,2361.3 L1424.9,2360.3 L1428.5,2359.2 L1432.2,2358.1 L1435.8,2357.0 L1439.4,2355.9 L1443.0,2354.8 L1446.6,2353.6 L1450.2,2352.5 L1453.8,2351.3 L1457.4,2350.1 L1461.0,2348.9 L1464.6,2347.6 L1468.1,2346.4 L1471.7,2345.1 L1475.2,2343.9 L1478.7,2342.6 L1482.3,2341.3 L1485.8,2339.9 L1489.3,2338.6 L1492.8,2337.2 L1496.3,2335.9 L1499.8,2334.5 L1503.3,2333.1 L1506.7,2331.7 L1510.2,2330.2 L1513.7,2328.8 L1517.1,2327.3 L1520.6,2325.8 L1524.0,2324.3 L1527.4,2322.8 L1530.8,2321.3 L1534.3,2319.8 L1537.7,2318.2 L1541.1,2316.7 L1544.4,2315.1 L1547.8,2313.5 L1551.2,2311.9 L1554.6,2310.3 L1557.9,2308.6 L1561.3,2307.0 L1564.6,2305.3 L1568.0,2303.6 L1571.3,2302.0 L1574.6,2300.3 L1577.9,2298.5 L1581.3,2296.8 L1584.6,2295.1 L1587.8,2293.3 L1591.1,2291.5 L1594.4,2289.8 L1597.7,2288.0 L1601.0,2286.2 L1604.2,2284.3 L1607.5,2282.5 L1610.7,2280.7 L1613.9,2278.8 L1617.2,2276.9 L1620.4,2275.0 L1623.6,2273.1 L1626.8,2271.2 L1630.0,2269.3 L1633.2,2267.4 L1636.4,2265.4 L1639.6,2263.5 L1642.8,2261.5 L1645.9,2259.5 L1649.1,2257.5 L1652.2,2255.5 L1655.4,2253.5 L1658.5,2251.5 L1661.7,2249.4 L1664.8,2247.4 L1667.9,2245.3 L1671.0,2243.3 L1674.1,2241.2 L1677.2,2239.1 L1680.3,2237.0 L1683.4,2234.9 L1686.5,2232.7 L1689.6,2230.6 L1692.6,2228.4 L1695.7,2226.3 L1698.7,2224.1 L1701.8,2221.9 L1704.8,2219.7 L1707.8,2217.5 L1710.9,2215.3 L1713.9,2213.1 L1716.9,2210.9 L1719.9,2208.6 L1722.9,2206.4 L1725.9,2204.1 L1728.9,2201.9 L1731.9,2199.6 L1734.8,2197.3 L1737.8,2195.0 L1740.8,2192.7 L1743.7,2190.4 L1746.7,2188.0 L1749.6,2185.7 L1752.5,2183.3 L1755.5,2181.0 L1758.4,2178.6 L1761.3,2176.2 L1764.2,2173.9 L1767.1,2171.5 L1770.0,2169.1 L1772.9,2166.7 L1775.8,2164.3 L1778.7,2161.8 L1781.6,2159.4 L1784.4,2157.0 L1787.3,2154.5 L1790.1,2152.0 L1793.0,2149.6 L1795.8,2147.1 L1798.7,2144.6 L1801.5,2142.1 L1804.3,2139.6 L1807.1,2137.1 L1810.0,2134.6 L1812.8,2132.1 L1815.6,2129.6 L1818.4,2127.0 L1821.1,2124.5 L1823.9,2122.0 L1826.7,2119.4 L1829.5,2116.8 L1832.2,2114.3 L1835.0,2111.7 L1837.7,2109.1 L1840.5,2106.5 L1843.2,2103.9 L1846.0,2101.3 L1848.7,2098.7 L1851.4,2096.1 L1854.1,2093.5 L1856.9,2090.8 L1859.6,2088.2 L1862.3,2085.6 L1865.0,2082.9 L1867.7,2080.3 L1870.3,2077.6 L1873.0,2074.9 L1875.7,2072.3 L1878.4,2069.6 L1881.0,2066.9 L1883.7,2064.2 L1886.3,2061.5 L1889.0,2058.8 L1891.6,2056.1 L1894.3,2053.4 L1896.9,2050.7 L1899.5,2048.0 L1902.1,2045.3 L1904.7,2042.5 L1907.4,2039.8 L1910.0,2037.1 L1912.6,2034.3 L1915.1,2031.6 L1917.7,2028.8 L1920.3,2026.1 L1922.9,2023.3 L1925.5,2020.6 L1928.0,2017.8 L1930.6,2015.0 L1933.1,2012.2 L1935.7,2009.5 L1938.2,2006.7 L1940.8,2003.9 L1943.3,2001.1 L1945.8,1998.3 L1948.4,1995.5 L1950.9,1992.7 L1953.4,1989.9 L1955.9,1987.1 L1958.4,1984.3 L1960.9,1981.5 L1963.4,1978.6 L1965.9,1975.8 L1968.4,1973.0 L1970.9,1970.2 L1973.3,1967.3 L1975.8,1964.5 L1978.3,1961.7 L1980.7,1958.8 L1983.2,1956.0 L1985.6,1953.2 L1988.1,1950.3 L1990.5,1947.5 L1993.0,1944.6 L1995.4,1941.8 L1997.8,1938.9 L2000.2,1936.1 L2002.7,1933.2 L2005.1,1930.4 L2007.5,1927.5 L2009.9,1924.6 L2012.3,1921.8 L2014.7,1918.9 L2017.1,1916.0 L2019.5,1913.2 L2021.8,1910.3 L2024.2,1907.4 L2026.6,1904.6 L2028.9,1901.7 L2031.3,1898.8 L2033.7,1895.9 L2036.0,1893.1 L2038.4,1890.2 L2040.7,1887.3 L2043.0,1884.5 L2045.4,1881.6 L2047.7,1878.7 L2050.0,1875.8 L2052.4,1872.9 L2054.7,1870.1 L2057.0,1867.2 L2059.3,1864.3 L2061.6,1861.4 L2063.9,1858.6 L2066.2,1855.7 L2068.5,1852.8 L2070.8,1849.9 L2073.1,1847.1" fill="none" stroke="#ff2020" stroke-width="2.1" stroke-linejoin="round" stroke-linecap="round"/>
<rect x="1299.25" y="1757.50" width="845.95" height="684.10" fill="none" stroke="#303030" stroke-width="2.7"/>
<path d="M1370.50,2441.60V2429.10 M1441.03,2441.60V2435.10 M1511.55,2441.60V2429.10 M1582.08,2441.60V2435.10 M1652.60,2441.60V2429.10 M1723.12,2441.60V2435.10 M1793.65,2441.60V2429.10 M1864.17,2441.60V2435.10 M1934.70,2441.60V2429.10 M2005.22,2441.60V2435.10 M2075.75,2441.60V2429.10 M1299.25,2401.47H1305.75 M1299.25,2361.34H1311.75 M1299.25,2321.21H1305.75 M1299.25,2281.07H1311.75 M1299.25,2240.94H1305.75 M1299.25,2200.81H1311.75 M1299.25,2160.68H1305.75 M1299.25,2120.55H1311.75 M1299.25,2080.42H1305.75 M1299.25,2040.29H1311.75 M1299.25,2000.16H1305.75 M1299.25,1960.03H1311.75 M1299.25,1919.89H1305.75 M1299.25,1879.76H1311.75 M1299.25,1839.63H1305.75 M1299.25,1799.50H1311.75" stroke="#303030" stroke-width="2.6" fill="none"/>
<text transform="translate(1350.08,2477.70) scale(0.809,1)" font-size="31.0" font-weight="bold" textLength="47.50" lengthAdjust="spacing">-20</text>
<text transform="translate(1503.14,2477.70) scale(0.809,1)" font-size="31.0" font-weight="bold" textLength="17.82" lengthAdjust="spacing">0</text>
<text transform="translate(1636.98,2477.70) scale(0.809,1)" font-size="31.0" font-weight="bold" textLength="35.63" lengthAdjust="spacing">20</text>
<text transform="translate(1778.04,2477.70) scale(0.809,1)" font-size="31.0" font-weight="bold" textLength="35.63" lengthAdjust="spacing">40</text>
<text transform="translate(1919.09,2477.70) scale(0.809,1)" font-size="31.0" font-weight="bold" textLength="35.63" lengthAdjust="spacing">60</text>
<text transform="translate(2060.14,2477.70) scale(0.809,1)" font-size="31.0" font-weight="bold" textLength="35.63" lengthAdjust="spacing">80</text>
<text transform="translate(1268.80,2449.58) scale(0.809,1)" font-size="30.0" font-weight="bold" textLength="17.24" lengthAdjust="spacing">0</text>
<text transform="translate(1268.80,2369.32) scale(0.809,1)" font-size="30.0" font-weight="bold" textLength="17.24" lengthAdjust="spacing">5</text>
<text transform="translate(1254.85,2289.05) scale(0.809,1)" font-size="30.0" font-weight="bold" textLength="34.48" lengthAdjust="spacing">10</text>
<text transform="translate(1254.85,2208.79) scale(0.809,1)" font-size="30.0" font-weight="bold" textLength="34.48" lengthAdjust="spacing">15</text>
<text transform="translate(1254.85,2128.53) scale(0.809,1)" font-size="30.0" font-weight="bold" textLength="34.48" lengthAdjust="spacing">20</text>
<text transform="translate(1254.85,2048.27) scale(0.809,1)" font-size="30.0" font-weight="bold" textLength="34.48" lengthAdjust="spacing">25</text>
<text transform="translate(1254.85,1968.01) scale(0.809,1)" font-size="30.0" font-weight="bold" textLength="34.48" lengthAdjust="spacing">30</text>
<text transform="translate(1254.85,1887.74) scale(0.809,1)" font-size="30.0" font-weight="bold" textLength="34.48" lengthAdjust="spacing">35</text>
<text transform="translate(1254.85,1807.48) scale(0.809,1)" font-size="30.0" font-weight="bold" textLength="34.48" lengthAdjust="spacing">40</text>
<rect x="1381.35" y="1805.35" width="14.5" height="13.8" fill="#000"/>
<path d="M1349.10,1858.35H1430.10" stroke="#ff2020" stroke-width="2.6"/>
<text transform="translate(1437.60,1823.75) scale(0.92,1)" font-size="35.2" font-weight="bold" textLength="314.13" lengthAdjust="spacing">Experimental Data</text>
<text transform="translate(1437.60,1868.75) scale(0.92,1)" font-size="35.2" font-weight="bold" textLength="335.87" lengthAdjust="spacing">Interpolation Curve</text>
<text transform="translate(1584.30,2531.20) scale(0.92,1)" font-size="35.2" font-weight="bold" textLength="296.74" lengthAdjust="spacing">Temperature (°C)</text>
<text transform="translate(1721.80,2577.06) scale(1.05,1)" font-size="48.3" font-weight="bold" text-anchor="middle">(f)</text>
<text transform="translate(1232.60,2099.55) rotate(-90)" font-size="36.5" text-anchor="middle"><tspan font-style="italic">θ</tspan><tspan font-size="22.5" dy="9">0</tspan><tspan dy="-9"> (s)</tspan></text>
</g>
</svg></body></html>
